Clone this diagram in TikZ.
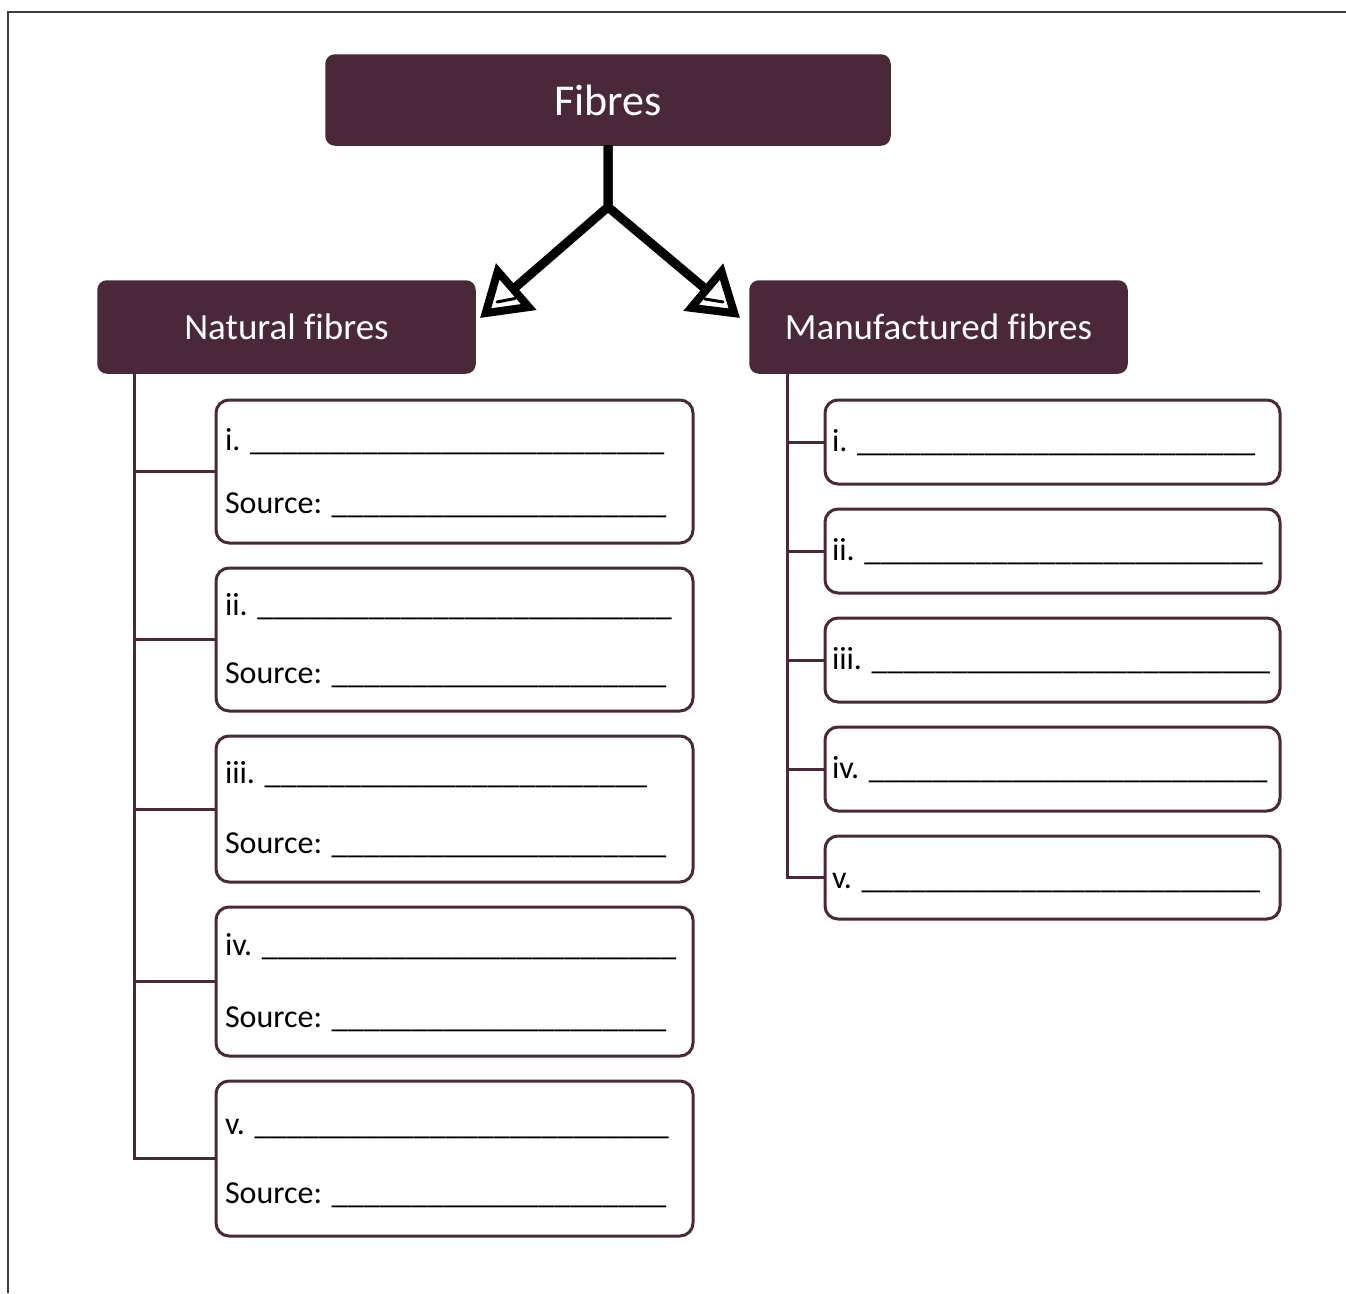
\documentclass[tikz,border=0pt]{standalone}
\usepackage{fontspec}
\setmainfont{Carlito}[Ligatures={CommonOff}]
\usetikzlibrary{arrows.meta}
\definecolor{plum}{RGB}{74,40,57}
\definecolor{framegray}{RGB}{60,60,60}
\ExplSyntaxOn
\NewDocumentCommand\blanks{m}{\prg_replicate:nn{#1}{\_}}
\ExplSyntaxOff
\begin{document}
\begin{tikzpicture}[x=1pt,y=-1pt,
 hdr/.style={draw=plum, fill=plum, rounded corners=9pt, line width=1.5pt, text=white, inner sep=0pt, outer sep=0pt, anchor=north west},
 ebox/.style={draw=plum, fill=white, rounded corners=13pt, line width=3pt, inner sep=0pt, outer sep=0pt, anchor=north west},
 lbl/.style={anchor=base west, inner sep=0pt, outer sep=0pt, font=\fontsize{32}{38}\selectfont},
 tree/.style={draw=plum, line width=3pt},
 fat/.style={line width=9pt, black, line join=miter, -{Triangle[open, length=48pt, width=60pt, line width=8pt]}},
 dashmark/.style={line width=3pt, black, line cap=round},
 frame/.style={draw=framegray, line width=2.5pt}]
\useasboundingbox (0,0) rectangle (1346,1293);
% frame
\draw[frame] (8,1293) -- (8,12) -- (1346,12);
% headers
\node[hdr, minimum width=564pt, minimum height=90pt, font=\fontsize{44}{50}\selectfont] (fib) at (326,55) {Fibres};
\node[hdr, minimum width=377pt, minimum height=92pt, font=\fontsize{37}{44}\selectfont] (nat) at (98,281) {Natural fibres};
\node[hdr, minimum width=377pt, minimum height=92pt, font=\fontsize{37}{44}\selectfont] (man) at (750,281) {Manufactured fibres};
% arrows
\coordinate (j) at (608,207);
\coordinate (tipL) at (480,318);
\coordinate (tipR) at (740,318);
\draw[fat] (fib.south) -- (j) -- (tipL);
\draw[fat] (fib.south) -- (j) -- (tipR);
\coordinate (dL1) at (497,302); \coordinate (dL2) at (515,298.5);
\coordinate (dR1) at (705,299); \coordinate (dR2) at (723,302);
\draw[dashmark] (dL1) -- (dL2);
\draw[dashmark] (dR1) -- (dR2);
% left boxes
\node[ebox, minimum width=477pt, minimum height=143pt] (n1) at (216,400) {};
\node[ebox, minimum width=477pt, minimum height=143pt] (n2) at (216,568) {};
\node[ebox, minimum width=477pt, minimum height=146pt] (n3) at (216,736) {};
\node[ebox, minimum width=477pt, minimum height=149pt] (n4) at (216,907) {};
\node[ebox, minimum width=477pt, minimum height=155pt] (n5) at (216,1081) {};
% right boxes
\node[ebox, minimum width=455pt, minimum height=84pt] (m1) at (825,400) {};
\node[ebox, minimum width=455pt, minimum height=84pt] (m2) at (825,509) {};
\node[ebox, minimum width=455pt, minimum height=84pt] (m3) at (825,618) {};
\node[ebox, minimum width=455pt, minimum height=84pt] (m4) at (825,727) {};
\node[ebox, minimum width=455pt, minimum height=83pt] (m5) at (825,836) {};
% tree lines
\coordinate (lt) at (134,373);
\coordinate (rt) at (787,373);
\draw[tree] (lt) |- (n5.west);
\foreach \b in {n1,n2,n3,n4} \draw[tree] (\b.west) -- (\b.west -| lt);
\draw[tree] (rt) |- (m5.west);
\foreach \b in {m1,m2,m3,m4} \draw[tree] (\b.west) -- (\b.west -| rt);
% left texts
\node[lbl] (n1a) at (225,450) {i. \blanks{26}};
\node[lbl] (n1b) at (225,513) {Source: \blanks{21}};
\node[lbl] (n2a) at (225,615) {ii. \blanks{26}};
\node[lbl] (n2b) at (225,683) {Source: \blanks{21}};
\node[lbl] (n3a) at (225,783) {iii. \blanks{24}};
\node[lbl] (n3b) at (225,853) {Source: \blanks{21}};
\node[lbl] (n4a) at (225,955) {iv. \blanks{26}};
\node[lbl] (n4b) at (225,1027) {Source: \blanks{21}};
\node[lbl] (n5a) at (225,1134) {v. \blanks{26}};
\node[lbl] (n5b) at (225,1203) {Source: \blanks{21}};
% right texts
\node[lbl] (m1a) at (832,451) {i. \blanks{25}};
\node[lbl] (m2a) at (832,560) {ii. \blanks{25}};
\node[lbl] (m3a) at (832,669) {iii. \blanks{25}};
\node[lbl] (m4a) at (832,778) {iv. \blanks{25}};
\node[lbl] (m5a) at (832,888) {v. \blanks{25}};
\end{tikzpicture}
\end{document}
